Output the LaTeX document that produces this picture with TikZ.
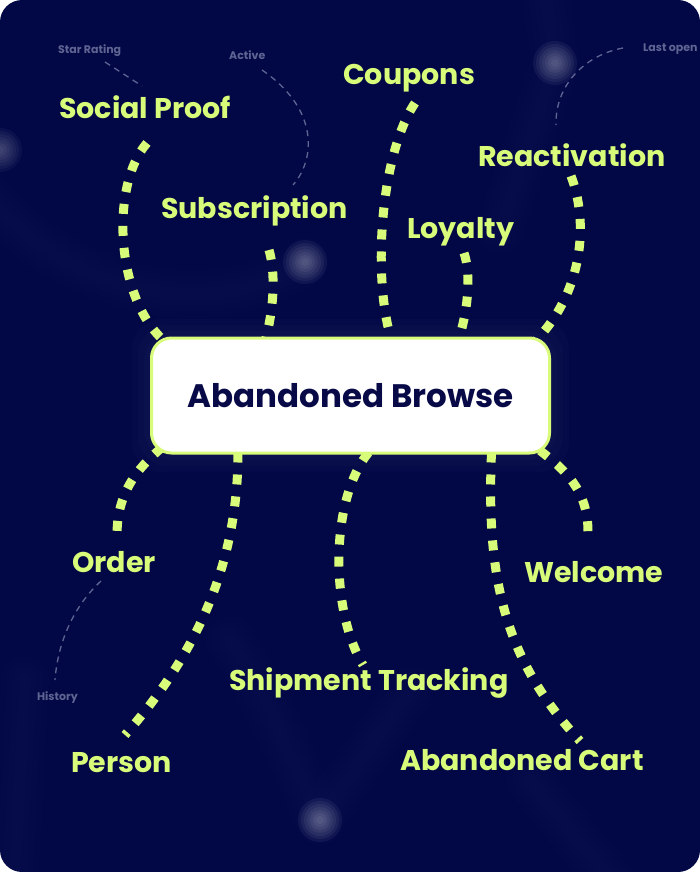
\documentclass[tikz,border=0pt]{standalone}
\usepackage{fontspec}
\setmainfont{Poppins}
\usepackage{tikz}
\definecolor{nightblue}{RGB}{2,8,70}
\definecolor{limegreen}{RGB}{217,251,122}
\definecolor{hintgray}{RGB}{96,100,146}
\definecolor{inkblue}{RGB}{8,10,72}
\pgfdeclarelayer{sky}
\pgfdeclarelayer{wires}
\pgfsetlayers{sky,wires,main}

\begin{document}
\begin{tikzpicture}[x=1pt,y=-1pt,
    topic/.style={anchor=base west,inner sep=0pt,text=limegreen,font=\fontsize{28.5}{32}\selectfont\bfseries},
    hint/.style={anchor=base west,inner sep=0pt,text=hintgray,font=\fontsize{11}{13}\selectfont\bfseries},
    link/.style={draw=limegreen,line width=9pt,dash pattern=on 10pt off 12pt},
    thread/.style={draw=hintgray,line width=1.3pt,dash pattern=on 6pt off 5pt},
    haze/.style={draw=white,opacity=0.009,line cap=round}
]
\useasboundingbox (0,0) rectangle (700,872);
\begin{pgfonlayer}{sky}
\fill[nightblue,rounded corners=22pt] (0,0) rectangle (700,872);
\begin{scope}
\clip[rounded corners=22pt] (0,0) rectangle (700,872);
\foreach \w in {12,24,36,48} {
  \draw[haze,line width=\w pt] (545,-10) -- (555,63) -- (500,230);
  \draw[haze,line width=\w pt] (-10,200) .. controls (80,300) and (220,320) .. (305,262);
  \draw[haze,line width=\w pt] (230,640) .. controls (270,700) and (300,780) .. (320,820);
  \draw[haze,line width=\w pt] (320,820) -- (410,690);
  \draw[haze,line width=\w pt] (530,780) -- (610,880);
  \draw[haze,line width=\w pt] (25,680) -- (15,870);
}
\foreach \r in {4,7,...,22} {
  \fill[white,opacity=0.05] (555,63) circle (\r);
  \fill[white,opacity=0.05] (305,262) circle (\r);
  \fill[white,opacity=0.05] (320,820) circle (\r);
  \fill[white,opacity=0.04] (0,150) circle (\r);
}
\foreach \d in {6,12,18} {
  \fill[white,opacity=0.015,rounded corners=30pt] (150-\d,337-\d) rectangle (551+\d,454+\d);
}
\end{scope}
\end{pgfonlayer}

\node[draw=limegreen,line width=3pt,fill=white,rounded corners=20pt,minimum width=398pt,minimum height=115pt,
    text=inkblue,font=\fontsize{32.5}{36}\selectfont\bfseries] (hub) at (350.5,395.5) {Abandoned Browse};

\node[topic] (social) at (59,118) {Social Proof};
\node[topic] (coupons) at (343,85) {Coupons};
\node[topic] (subscr) at (161,218) {Subscription};
\node[topic] (react) at (478,166) {Reactivation};
\node[topic] (loyal) at (407,238) {Loyalty};
\node[topic] (order) at (72,572) {Order};
\node[topic] (welcome) at (524,582) {Welcome};
\node[topic] (ship) at (229,690) {Shipment Tracking};
\node[topic] (person) at (71,772) {Person};
\node[topic] (cart) at (400,770) {Abandoned Cart};

\node[hint] (star) at (58,54) {Star Rating};
\node[hint] (active) at (229,60) {Active};
\node[hint] (lastopen) at (643,52) {Last open};
\node[hint] (history) at (37,700) {History};

\begin{pgfonlayer}{wires}
\draw[link] ([shift={(88,25)}]social.base west) .. controls (110,185) and (115,300) .. ([shift={(16,6)}]hub.north west);
\draw[link] ([shift={(108,32)}]subscr.base west) .. controls (275,270) and (275,305) .. ([shift={(115,5)}]hub.north west);
\draw[link] ([shift={(72,18)}]coupons.base west) .. controls (380,155) and (372,280) .. ([shift={(242,5)}]hub.north west);
\draw[link] ([shift={(57,15)}]loyal.base west) .. controls (470,270) and (470,305) .. ([shift={(308,5)}]hub.north west);
\draw[link] ([shift={(93,10)}]react.base west) .. controls (588,220) and (585,290) .. ([shift={(-16,5)}]hub.north east);
\draw[link] ([shift={(12,-7)}]hub.south west) .. controls (135,470) and (117,495) .. ([shift={(45,-37)}]order.base west);
\draw[link] ([shift={(88,-2)}]hub.south west) .. controls (238,560) and (200,650) .. ([shift={(54,-37)}]person.base west);
\draw[link] ([shift={(18,-2)}]hub.south) .. controls (330,500) and (330,610) .. ([shift={(134,-25)}]ship.base west);
\draw[link] ([shift={(141,-2)}]hub.south) .. controls (486,580) and (505,660) .. ([shift={(180,-29)}]cart.base west);
\draw[link] ([shift={(-11,-4)}]hub.south east) .. controls (565,470) and (588,490) .. ([shift={(64,-50)}]welcome.base west);

\draw[thread] ([shift={(47,8)}]star.base west) -- ([shift={(83,-32)}]social.base west);
\draw[thread] ([shift={(33,10)}]active.base west) .. controls (320,110) and (315,160) .. ([shift={(132,-33)}]subscr.base west);
\draw[thread] ([shift={(-20,-4)}]lastopen.base west) .. controls (585,55) and (555,85) .. ([shift={(78,-41)}]react.base west);
\draw[thread] ([shift={(29,9)}]order.base west) .. controls (75,605) and (58,640) .. ([shift={(18,-20)}]history.base west);
\end{pgfonlayer}
\end{tikzpicture}
\end{document}
